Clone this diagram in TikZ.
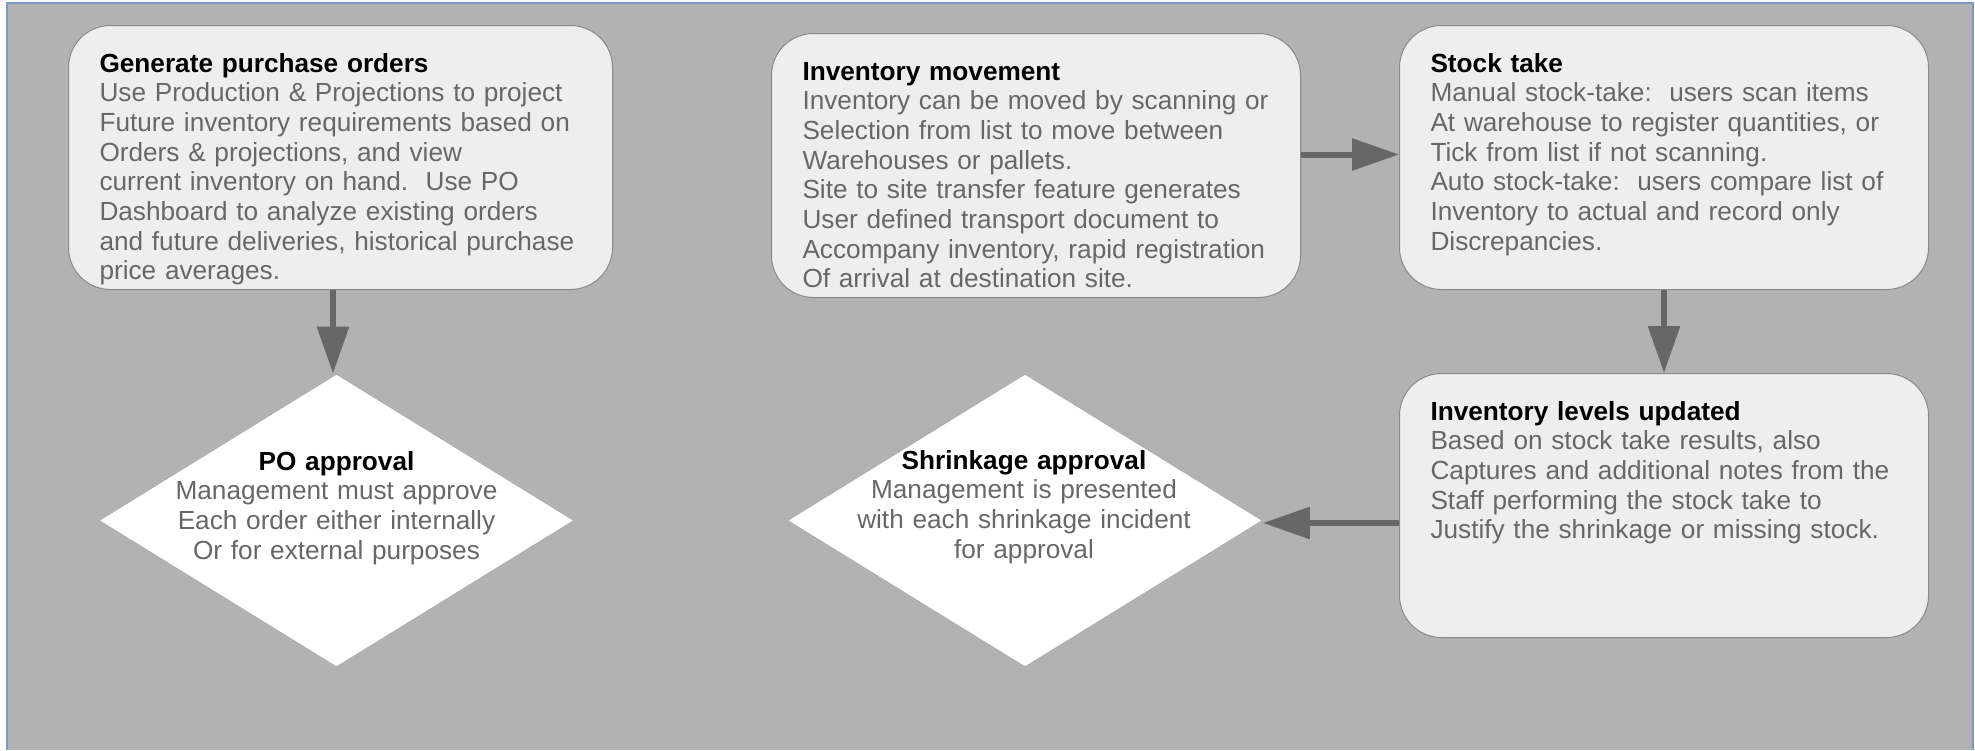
\documentclass[tikz,border=0pt]{standalone}
\usepackage{fontspec}
\setmainfont{Liberation Sans}
\usetikzlibrary{shapes.geometric,arrows.meta}

\definecolor{canvas}{HTML}{B2B2B2}
\definecolor{boxfill}{HTML}{EEEEEE}
\definecolor{boxline}{HTML}{8A8A8A}
\definecolor{bodygray}{HTML}{676767}
\definecolor{frameblue}{HTML}{7C9AC8}

\begin{document}
\begin{tikzpicture}[x=1pt,y=-1pt,
  bodyfont/.style={font=\fontsize{26.2pt}{29.7pt}\selectfont, text=bodygray},
  procbox/.style={bodyfont, draw=boxline, fill=boxfill, line width=1pt, rounded corners=42pt,
    anchor=north west, text width=#1, align=left, inner xsep=31pt, inner ysep=0pt,
    text height=46.5pt, text depth=217.5pt},
  decbox/.style={diamond, draw=boxline!70, fill=white, line width=0.8pt, inner sep=0pt,
    minimum width=475pt, minimum height=293pt},
  dectext/.style={bodyfont, anchor=base, text width=420pt, align=center, inner sep=0pt},
  flowarrow/.style={draw=bodygray, line width=6pt, -{Triangle[length=47pt,width=31pt]}}]
  \useasboundingbox (0,0) rectangle (1975,750);
  \fill[white] (0,0) rectangle (1975,750);
  \fill[canvas] (7,3) rectangle (1973,750);
  \draw[frameblue, line width=1.5pt] (7,750) -- (7,3) -- (1973,3) -- (1973,750);

  \node[procbox=482pt] (generate) at (68,25) {\textbf{\color{black}Generate purchase orders}\\
    Use Production \& Projections to project\\
    Future inventory requirements based on\\
    Orders \& projections, and view\\
    current inventory on hand.\ \ Use PO\\
    Dashboard to analyze existing orders\\
    and future deliveries, historical purchase\\
    price averages.};
  \node[procbox=467pt] (movement) at (771,33) {\textbf{\color{black}Inventory movement}\\
    Inventory can be moved by scanning or\\
    Selection from list to move between\\
    Warehouses or pallets.\\
    Site to site transfer feature generates\\
    User defined transport document to\\
    Accompany inventory, rapid registration\\
    Of arrival at destination site.};
  \node[procbox=467pt] (stocktake) at (1399,25) {\textbf{\color{black}Stock take}\\
    Manual stock-take:\ \ users scan items\\
    At warehouse to register quantities, or\\
    Tick from list if not scanning.\\
    Auto stock-take:\ \ users compare list of\\
    Inventory to actual and record only\\
    Discrepancies.};
  \node[procbox=467pt] (levels) at (1399,373) {\textbf{\color{black}Inventory levels updated}\\
    Based on stock take results, also\\
    Captures and additional notes from the\\
    Staff performing the stock take to\\
    Justify the shrinkage or missing stock.};

  \node[decbox] (poapproval) at (336.5,520.5) {};
  \node[decbox] (shrinkage)  at (1025,520.5) {};
  \node[dectext] (potext) at (336.5,470) {\textbf{\color{black}PO approval}\\
    Management must approve\\
    Each order either internally\\
    Or for external purposes};
  \node[dectext] (shrinktext) at (1024,469) {\textbf{\color{black}Shrinkage approval}\\
    Management is presented\\
    with each shrinkage incident\\
    for approval};

  \draw[flowarrow] ([xshift=-3.5pt]generate.south -| poapproval.north) -- ([xshift=-3.5pt]poapproval.north);
  \draw[flowarrow] ([yshift=3pt]stocktake.west -| movement.east) -- ([yshift=3pt]stocktake.west);
  \draw[flowarrow] (stocktake.south) -- (levels.north);
  \draw[flowarrow] ([yshift=-2.5pt]levels.west |- shrinkage.east) -- ([yshift=-2.5pt]shrinkage.east);
\end{tikzpicture}
\end{document}
